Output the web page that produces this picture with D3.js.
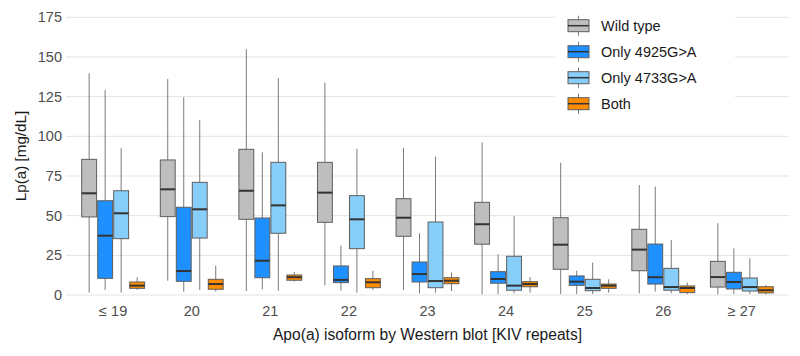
<!DOCTYPE html>
<html>
<head>
<meta charset="utf-8">
<script src="https://cdn.jsdelivr.net/npm/d3@7"></script>
<style>
  body { margin: 0; background: #fff; }
  svg { font-family: "Liberation Sans", Arial, sans-serif; display: block; }
</style>
</head>
<body>
<div id="chart"></div>
<script>
// categories on the x axis
const categories = ["≤ 19", "20", "21", "22", "23", "24", "25", "26", "≥ 27"];
const seriesNames = ["Wild type", "Only 4925G>A", "Only 4733G>A", "Both"];
const seriesColors = ["#bebebe", "#1e90ff", "#87cefa", "#ff8c00"];
const yTicks = [0, 25, 50, 75, 100, 125, 150, 175];

// [lower whisker, q1, median, q3, upper whisker] per category
const wildType = [
    [1.5, 49.2, 64.1, 85.5, 139.7],
    [9.0, 49.4, 66.6, 85.1, 136.1],
    [2.5, 47.7, 65.7, 91.8, 154.9],
    [6.1, 45.8, 64.5, 83.6, 133.8],
    [3.2, 37.0, 48.7, 60.7, 92.6],
    [0.4, 32.0, 44.6, 58.4, 96.2],
    [0.6, 16.2, 31.7, 48.7, 83.4],
    [1.1, 15.3, 28.6, 41.4, 69.3],
    [0.4, 5.0, 11.3, 21.2, 45.2]
];
const only4925 = [
    [3.2, 10.5, 37.4, 59.4, 129.2],
    [2.1, 8.6, 15.1, 55.3, 124.6],
    [3.6, 10.9, 21.6, 48.5, 89.9],
    [2.7, 7.8, 9.5, 18.3, 31.1],
    [1.1, 8.2, 13.2, 20.8, 38.9],
    [0.6, 7.4, 10.1, 14.7, 25.6],
    [0.6, 6.1, 8.4, 12.0, 15.3],
    [2.1, 6.9, 11.2, 32.1, 68.3],
    [0.6, 3.8, 8.2, 14.3, 29.4]
];
const only4733 = [
    [1.5, 35.5, 51.5, 65.7, 92.5],
    [3.2, 35.9, 54.0, 71.0, 110.3],
    [2.7, 38.9, 56.5, 83.6, 136.6],
    [1.5, 29.2, 47.7, 62.6, 92.2],
    [1.5, 4.6, 8.8, 46.0, 87.2],
    [1.1, 3.0, 5.9, 24.4, 49.8],
    [0.6, 2.7, 4.4, 9.9, 20.4],
    [1.1, 3.0, 5.0, 16.8, 34.7],
    [0.6, 2.5, 5.0, 10.7, 23.1]
];
const both = [
    [3.2, 4.2, 5.9, 8.2, 11.2],
    [2.1, 3.6, 6.9, 9.9, 18.5],
    [8.4, 9.3, 11.2, 12.6, 14.5],
    [3.2, 4.6, 8.0, 10.3, 15.3],
    [2.5, 7.1, 9.0, 10.9, 14.3],
    [1.5, 5.2, 6.9, 8.4, 11.3],
    [1.5, 4.2, 5.9, 6.9, 9.9],
    [0.6, 1.5, 4.4, 5.7, 7.8],
    [0.4, 1.3, 3.0, 5.2, 6.4]
];
const seriesData = [wildType, only4925, only4733, both];

const width = 800, height = 356;
const svg = d3.select("#chart").append("svg")
    .attr("width", width)
    .attr("height", height);

const x = d3.scalePoint()
    .domain(categories)
    .range([66, 789])
    .padding(0.6);
const groupWidth = x.step() * 0.8;
const xs = d3.scaleBand()
    .domain(seriesNames)
    .range([-groupWidth / 2, groupWidth / 2])
    .paddingInner(0.07);
const y = d3.scaleLinear()
    .domain([0, 175])
    .range([295, 17.3]);

// grid lines
svg.append("g")
    .selectAll("line")
    .data(yTicks)
    .join("line")
    .attr("x1", 66)
    .attr("x2", 789)
    .attr("y1", d => y(d))
    .attr("y2", d => y(d))
    .attr("stroke", "#e3e3e3")
    .attr("stroke-width", 1);

// y axis labels
svg.append("g")
    .selectAll("text")
    .data(yTicks)
    .join("text")
    .attr("x", 62)
    .attr("y", d => y(d))
    .attr("dy", "0.35em")
    .attr("text-anchor", "end")
    .attr("fill", "#4d4d4d")
    .style("font-size", "14.5px")
    .text(d => d);

// x axis labels
svg.append("g")
    .selectAll("text")
    .data(categories)
    .join("text")
    .attr("x", d => x(d))
    .attr("y", 311)
    .attr("dy", "0.35em")
    .attr("text-anchor", "middle")
    .attr("fill", "#4d4d4d")
    .style("font-size", "14.5px")
    .text(d => d);

svg.append("text")
    .attr("x", (66 + 789) / 2)
    .attr("y", 335)
    .attr("dy", "0.35em")
    .attr("text-anchor", "middle")
    .attr("fill", "#1a1a1a")
    .style("font-size", "15.6px")
    .text("Apo(a) isoform by Western blot [KIV repeats]");

svg.append("text")
    .attr("transform", "translate(20.5,156) rotate(-90)")
    .attr("dy", "0.35em")
    .attr("text-anchor", "middle")
    .attr("fill", "#1a1a1a")
    .style("font-size", "15.2px")
    .text("Lp(a) [mg/dL]");

// boxes
seriesNames.forEach(function (name, si) {
    const boxes = svg.append("g")
        .selectAll("g")
        .data(seriesData[si].map((v, i) => ({cat: categories[i], v: v})))
        .join("g")
        .attr("transform", d => "translate(" + (x(d.cat) + xs(name)) + ",0)");
    const bw = xs.bandwidth();

    boxes.append("line")
        .attr("x1", bw / 2).attr("x2", bw / 2)
        .attr("y1", d => y(d.v[0]))
        .attr("y2", d => y(d.v[4]))
        .attr("stroke", "#7a7a7a")
        .attr("stroke-width", 1);

    boxes.append("rect")
        .attr("x", 0)
        .attr("width", bw)
        .attr("y", d => y(d.v[3]))
        .attr("height", d => y(d.v[1]) - y(d.v[3]))
        .attr("fill", seriesColors[si])
        .attr("stroke", "#5e5e5e")
        .attr("stroke-width", 1);

    boxes.append("line")
        .attr("x1", 0).attr("x2", bw)
        .attr("y1", d => y(d.v[2]))
        .attr("y2", d => y(d.v[2]))
        .attr("stroke", "#333")
        .attr("stroke-width", 2);
});

// legend
const legend = svg.append("g");
legend.append("rect")
    .attr("x", 555).attr("y", 4)
    .attr("width", 180).attr("height", 122)
    .attr("fill", "#fff");

const rows = legend.selectAll("g")
    .data(seriesNames)
    .join("g")
    .attr("transform", (d, i) => "translate(568," + (25.7 + i * 26) + ")");

rows.append("line")
    .attr("x1", 10.5).attr("x2", 10.5)
    .attr("y1", -10).attr("y2", 10)
    .attr("stroke", "#7a7a7a");
rows.append("rect")
    .attr("x", 0).attr("y", -6)
    .attr("width", 21).attr("height", 12)
    .attr("fill", (d, i) => seriesColors[i])
    .attr("stroke", "#5e5e5e");
rows.append("line")
    .attr("x1", 0).attr("x2", 21)
    .attr("y1", 0).attr("y2", 0)
    .attr("stroke", "#333")
    .attr("stroke-width", 1.5);
rows.append("text")
    .attr("x", 33)
    .attr("dy", "0.35em")
    .attr("fill", "#1a1a1a")
    .style("font-size", "14.5px")
    .text(d => d);
</script>
</body>
</html>
